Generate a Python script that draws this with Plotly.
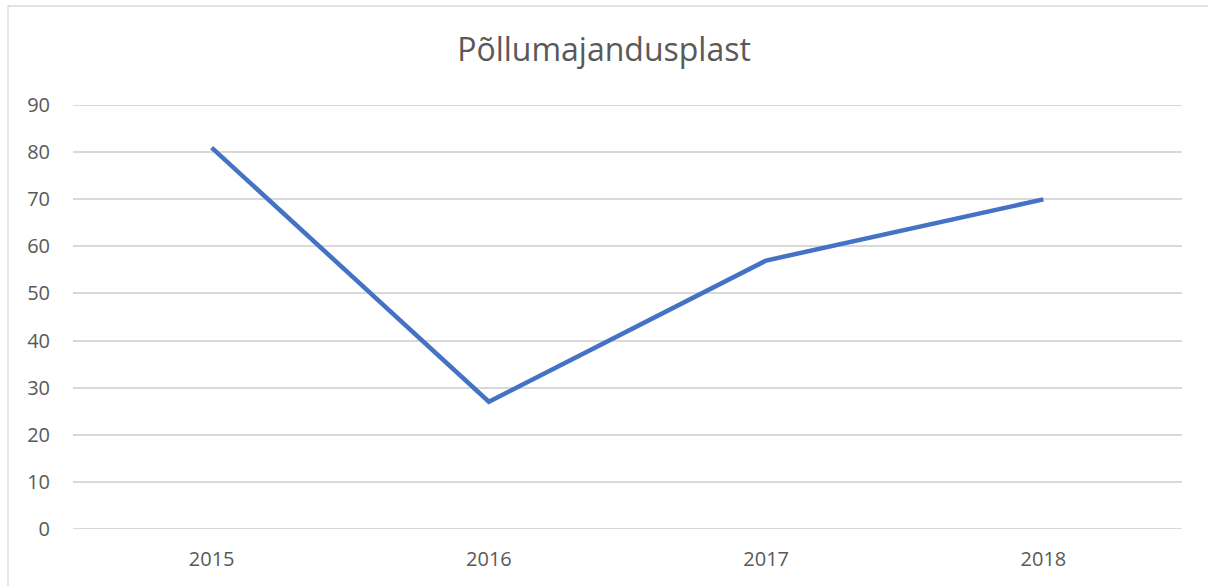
import plotly.graph_objects as go

years = ["2015", "2016", "2017", "2018"]
values = [81, 27, 57, 70]
title_text = "Põllumajandusplast"

W, H = 1208, 586
L, R, T, B = 73, 26, 105, 57
pw, ph = W - L - R, H - T - B

fig = go.Figure()
fig.add_trace(go.Scatter(
    x=years, y=values, mode="lines",
    line=dict(color="#4472c4", width=4.5),
    hoverinfo="x+y",
))

def px_x(p):
    return (p - L) / pw

def px_y(p):
    return (H - B - p) / ph

fig.add_shape(type="rect", xref="paper", yref="paper",
              x0=px_x(8), x1=px_x(1240), y0=px_y(620), y1=px_y(6),
              line=dict(color="#d9d9d9", width=1.3), fillcolor="rgba(0,0,0,0)", layer="below")

for yv in (0, 90):
    fig.add_shape(type="line", xref="paper", yref="y", x0=0, x1=1, y0=yv, y1=yv,
                  line=dict(color="#d9d9d9", width=1.5), layer="below")

fig.update_layout(
    width=W, height=H,
    margin=dict(l=L, r=R, t=T, b=B),
    paper_bgcolor="white", plot_bgcolor="white",
    font=dict(family="Open Sans", color="#595959", size=20),
    title=dict(text=title_text, x=0.5, xanchor="center", y=1 - 50 / H, yanchor="middle",
               font=dict(size=32, color="#595959", family="Open Sans")),
    showlegend=False,
    xaxis=dict(type="category", range=[-0.5, 3.5], showgrid=False, zeroline=False, showline=False,
               ticks="", ticklabelstandoff=16, tickfont=dict(size=20), automargin=False),
    yaxis=dict(range=[-0.04, 90.04], dtick=10, tick0=0, showgrid=True, gridcolor="#d9d9d9",
               gridwidth=1.5, zeroline=False, showline=False, ticks="",
               ticklabelstandoff=22, tickfont=dict(size=20), automargin=False),
)

fig.write_html("out.html", config={"displayModeBar": False},
               post_script="document.body.style.margin='0';document.body.style.overflow='hidden';")
